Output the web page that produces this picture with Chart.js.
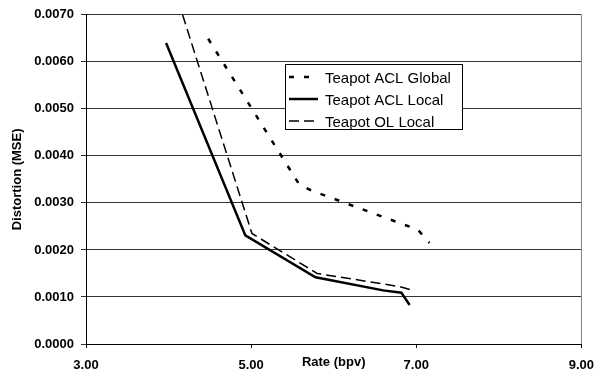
<!DOCTYPE html>
<html>
<head>
<meta charset="utf-8">
<script src="https://cdn.jsdelivr.net/npm/chart.js@4/dist/chart.umd.min.js"></script>
<style>
  html, body { margin: 0; padding: 0; background: #fff; }
  #wrap { width: 604px; height: 371px; }
</style>
</head>
<body>
<div id="wrap"><canvas id="chart" width="604" height="371"></canvas></div>
<script>
// series (rate in bpv, distortion in MSE)
const seriesLabels = ['Teapot ACL Global', 'Teapot ACL Local', 'Teapot OL Local'];

const aclGlobalRate = [4.48, 5.58, 5.72, 7.02, 7.16];
const aclGlobalMse = [0.00649, 0.00340, 0.00327, 0.00243, 0.00215];

const aclLocalRate = [3.97, 4.93, 5.78, 6.60, 6.82, 6.92];
const aclLocalMse = [0.00640, 0.00231, 0.00142, 0.00114, 0.00109, 0.00083];

const olLocalRate = [4.17, 5.01, 5.80, 6.80, 6.98];
const olLocalMse = [0.00700, 0.00235, 0.00150, 0.00122, 0.00113];

const xTicks = [3, 5, 7, 9];
const yTicks = [0, 0.001, 0.002, 0.003, 0.004, 0.005, 0.006, 0.007];

function toPoints(xs, ys) {
	return xs.map((x, i) => ({ x: x, y: ys[i] }));
}

const FONT = "'Liberation Sans', Arial, sans-serif";

// legend box drawn by hand, sits over the gridlines like the original
const boxLegend = {
	id: 'boxLegend',
	afterDraw(chart) {
		const ctx = chart.ctx;
		const area = chart.chartArea;
		ctx.save();
		// right border of the plot area
		ctx.strokeStyle = '#808080';
		ctx.lineWidth = 1;
		ctx.beginPath();
		ctx.moveTo(Math.round(area.right) + 0.5, area.top);
		ctx.lineTo(Math.round(area.right) + 0.5, area.bottom);
		ctx.stroke();

		const left = 285.5, top = 64.5, w = 177, h = 65;
		ctx.fillStyle = '#fff';
		ctx.fillRect(left, top, w, h);
		ctx.strokeStyle = '#000';
		ctx.strokeRect(left, top, w, h);

		chart.data.datasets.forEach((ds, i) => {
			const y = 77 + i * 22;
			ctx.strokeStyle = '#000';
			ctx.lineWidth = ds.borderWidth;
			ctx.setLineDash(ds.borderDash || []);
			ctx.beginPath();
			ctx.moveTo(289, y);
			ctx.lineTo(318, y);
			ctx.stroke();
			ctx.setLineDash([]);
			ctx.fillStyle = '#000';
			ctx.font = '15px ' + FONT;
			ctx.textBaseline = 'alphabetic';
			ctx.textAlign = 'left';
			ctx.fillText(ds.label, 325, y + 6);
		});
		ctx.restore();
	}
};

const data = {
	datasets: [{
		label: seriesLabels[0],
		data: toPoints(aclGlobalRate, aclGlobalMse),
		borderColor: '#000',
		borderWidth: 2.5,
		borderDash: [5, 10],
	}, {
		label: seriesLabels[1],
		data: toPoints(aclLocalRate, aclLocalMse),
		borderColor: '#000',
		borderWidth: 2.5,
	}, {
		label: seriesLabels[2],
		data: toPoints(olLocalRate, olLocalMse),
		borderColor: '#000',
		borderWidth: 1.5,
		borderDash: [10, 5],
	}]
};

const config = {
	type: 'scatter',
	data: data,
	options: {
		responsive: false,
		animation: false,
		showLine: true,
		pointRadius: 0,
		pointHoverRadius: 0,
		tension: 0,
		layout: {
			padding: { left: 0, top: 14, right: 19.5, bottom: 0 }
		},
		plugins: {
			legend: { display: false },
			tooltip: { enabled: false },
		},
		scales: {
			x: {
				type: 'linear',
				position: 'bottom',
				min: 3,
				max: 9,
				afterBuildTicks: (scale) => { scale.ticks = xTicks.map(v => ({ value: v })); },
				afterFit: (scale) => { scale.height = 27; },
				grid: { drawOnChartArea: false, tickLength: 4, color: '#000' },
				border: { color: '#000' },
				ticks: {
					padding: 10,
					color: '#000',
					font: { family: FONT, size: 13, weight: 'bold' },
					callback: (v) => v.toFixed(2),
				},
				title: {
					display: true,
					text: 'Rate (bpv)',
					color: '#000',
					font: { family: FONT, size: 13, weight: 'bold' },
					padding: { top: 0, bottom: 1 },
				}
			},
			y: {
				min: 0,
				max: 0.007,
				afterBuildTicks: (scale) => { scale.ticks = yTicks.map(v => ({ value: v })); },
				afterFit: (scale) => { scale.width = 86; },
				grid: { color: '#333', tickLength: 5 },
				border: { color: '#000' },
				ticks: {
					padding: 7,
					color: '#000',
					font: { family: FONT, size: 13, weight: 'bold' },
					callback: (v) => v.toFixed(4),
				},
				title: {
					display: true,
					text: 'Distortion (MSE)',
					color: '#000',
					font: { family: FONT, size: 13, weight: 'bold' },
					padding: { top: 10, bottom: 0 },
				}
			}
		}
	},
	plugins: [boxLegend]
};

const ctx = document.getElementById('chart');
const myChart = new Chart(ctx, config);
</script>
</body>
</html>
